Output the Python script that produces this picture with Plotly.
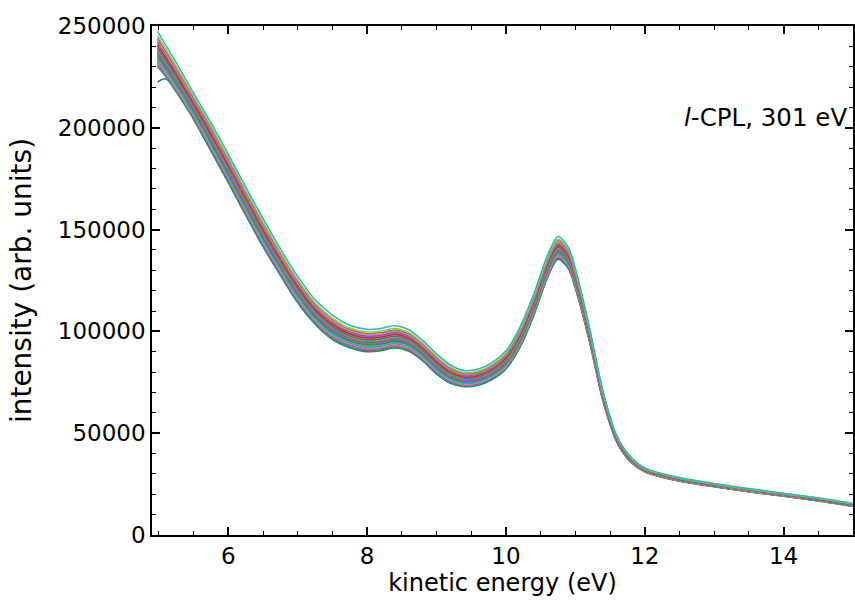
import plotly.graph_objects as go

# Kinetic-energy grid (eV) on which the spectra are sampled
energy = [4.98, 5.1, 5.25, 5.5, 5.75, 6.0, 6.25, 6.5, 6.75, 7.0, 7.25, 7.5, 7.75,
          8.0, 8.2, 8.4, 8.6, 8.8, 9.0, 9.2, 9.4, 9.6, 9.8, 10.0, 10.2, 10.4,
          10.6, 10.75, 10.9, 11.0, 11.2, 11.4, 11.6, 11.8, 12.0, 12.5, 13.0,
          13.5, 14.0, 14.5, 15.0]

# Mean intensity of the scan bundle at each energy (arb. units)
center = [238500, 232500, 224500, 210500, 195500, 180000, 164000, 148500, 134000,
          120500, 109500, 102000, 97500, 95500, 96000, 97300, 95500, 90500, 84000,
          79000, 76800, 77500, 80500, 86000, 97000, 113000, 132000, 141000, 136000,
          126000, 99000, 68000, 47000, 37000, 32000, 27300, 24500, 22000, 19800,
          17500, 14800]

# Half-width of the scan bundle at each energy
spread = [9000, 8000, 7500, 6500, 7000, 7000, 7000, 7000, 6500, 6500, 6000, 6000,
          5500, 5500, 5500, 5500, 5300, 5000, 5000, 4500, 4000, 4000, 4200, 4500,
          5000, 5300, 5500, 5600, 5300, 5000, 3500, 2400, 1600, 1300, 1000, 900,
          800, 800, 750, 750, 700]

# Position of each scan inside the bundle (-1 = lowest, +1 = highest)
scan_offsets = [-1.00, -0.86, -0.93, -0.74, -0.80, -0.62, -0.68, -0.55, -0.47, -0.50,
                -0.38, -0.30, -0.34, -0.20, -0.24, -0.12, -0.05, -0.09, 0.02, 0.10,
                0.06, 0.18, 0.26, 0.22, 0.35, 0.44, 0.50, 0.62, 0.76, 1.00]

# The first scan starts lower at the low-energy edge
first_scan_head = [222500, 224000, 218000]

TAB10 = ["#1f77b4", "#ff7f0e", "#2ca02c", "#d62728", "#9467bd",
         "#8c564b", "#e377c2", "#7f7f7f", "#bcbd22", "#17becf"]

FONT = "DejaVu Sans"

fig = go.Figure()
for i, off in enumerate(scan_offsets):
    y = [c + off * s for c, s in zip(center, spread)]
    if i == 0:
        y[:len(first_scan_head)] = first_scan_head
    fig.add_trace(go.Scatter(
        x=energy, y=y, mode="lines",
        line=dict(color=TAB10[i % 10], width=1.5, shape="spline", smoothing=0.8),
        showlegend=False, hoverinfo="skip",
    ))

fig.update_xaxes(
    showgrid=False, zeroline=False,
    showline=True, linecolor="black", linewidth=1.5, mirror="allticks",
    ticks="inside", ticklen=8, tickwidth=1.6, tickcolor="#000000",
    tickfont=dict(family=FONT, size=23, color="black"),
    range=[4.9, 15.0], tick0=0, dtick=2,
    title=dict(text="kinetic energy (eV)", font=dict(family=FONT, size=24, color="black"),
               standoff=4),
)
fig.update_yaxes(
    showgrid=False, zeroline=False,
    showline=True, linecolor="black", linewidth=1.5, mirror="allticks",
    ticks="inside", ticklen=8, tickwidth=1.6, tickcolor="#000000",
    tickfont=dict(family=FONT, size=23, color="black"),
    range=[0, 250000], tick0=0, dtick=50000, tickformat="d",
    title=dict(text="intensity (arb. units)", font=dict(family=FONT, size=28, color="black"),
               standoff=18),
)
fig.update_xaxes(minor=dict(ticks="inside", ticklen=4, tickwidth=1.2,
                            tickcolor="#000000", dtick=0.5))
fig.update_yaxes(minor=dict(ticks="inside", ticklen=4, tickwidth=1.2,
                            tickcolor="#000000", dtick=10000))

fig.add_annotation(
    text="<i>l</i>-CPL, 301 eV", xref="paper", yref="paper",
    x=0.995, y=0.82, xanchor="right", yanchor="middle", showarrow=False,
    font=dict(family=FONT, size=24.5, color="black"),
)

fig.update_layout(
    template="simple_white",
    width=855, height=601,
    margin=dict(l=152, r=0, t=26, b=66),
    paper_bgcolor="white", plot_bgcolor="white",
)

fig.write_html("out.html")
